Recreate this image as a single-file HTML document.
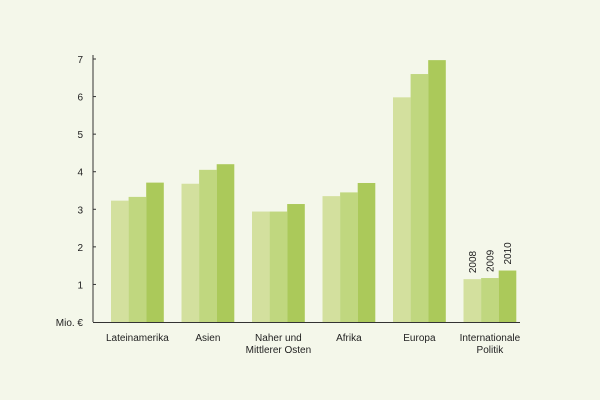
<!DOCTYPE html>
<html><head><meta charset="utf-8"><style>
body{margin:0;background:#f4f7ea;}
svg{display:block;font-family:"Liberation Sans",sans-serif;}
</style></head><body>
<svg id="chart" width="600" height="400">
<rect width="600" height="400" fill="#f4f7ea"/>
<g id="g"></g>
</svg>
<script>
const categories=[["Lateinamerika"],["Asien"],["Naher und","Mittlerer Osten"],["Afrika"],["Europa"],["Internationale","Politik"]];
const years=["2008","2009","2010"];
const s2008=[3.23,3.68,2.94,3.35,5.98,1.14];
const s2009=[3.33,4.05,2.94,3.45,6.6,1.17];
const s2010=[3.71,4.2,3.14,3.7,6.97,1.37];
const yTicks=[1,2,3,4,5,6,7];
const series=[s2008,s2009,s2010];
const colors=["#d3e09e","#c0d77f","#abc95a"];
const NS="http://www.w3.org/2000/svg";
const g=document.getElementById("g");
const x0=93,y0=322,unit=37.57,gStart=111,gStep=70.5,bw=17.6;
const y=v=>y0-v*unit;
const xb=(c,s)=>gStart+c*gStep+s*bw;
function mk(t,a){const e=document.createElementNS(NS,t);for(const k in a)e.setAttribute(k,a[k]);g.appendChild(e);return e;}
series.forEach((ser,s)=>ser.forEach((v,c)=>{
 const r=mk("rect",{x:xb(c,s),y:y(v),width:bw,height:y0-y(v),fill:colors[s]});
 
 
}));
const ax=mk("line",{x1:x0,y1:55,x2:x0,y2:y0,stroke:"#333","stroke-width":1});


const bx=mk("line",{x1:x0,y1:y0+0.5,x2:520,y2:y0+0.5,stroke:"#333","stroke-width":1});


yTicks.forEach(t=>{
 const tk=mk("line",{x1:x0,y1:y(t),x2:x0+3,y2:y(t),stroke:"#333"});
 
 
 const l=mk("text",{x:83,y:y(t)+4,"font-size":10,"text-anchor":"end",fill:"#222"});
 l.textContent=t;
 
 
});
const u=mk("text",{x:83,y:y0+4,"font-size":10,"text-anchor":"end",fill:"#222"});
u.textContent="Mio. €";


categories.forEach((lines,c)=>{
 const cx=gStart+c*gStep+bw*1.5;
 lines.forEach((ln,i)=>{
  const t=mk("text",{x:cx,y:341+i*12,"font-size":10,"text-anchor":"middle",fill:"#222"});
  t.textContent=ln;
  
  
 });
});
years.forEach((yr,s)=>{
 const last=series[s].length-1;
 const cx=xb(last,s)+bw/2+3.5, cy=y(series[s][last])-6;
 const t=mk("text",{x:cx,y:cy,"font-size":10,fill:"#222",transform:`rotate(-90 ${cx} ${cy})`});
 t.textContent=yr;
 
 
});
</script>
</body></html>
